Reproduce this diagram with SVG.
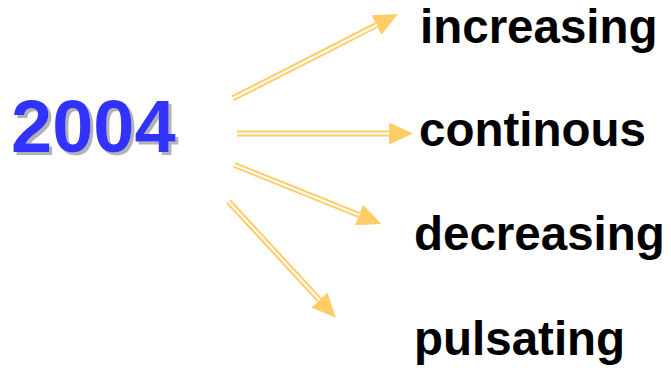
<svg xmlns="http://www.w3.org/2000/svg" width="671" height="372" viewBox="0 0 671 372">
<style>
.lbl{font-family:"Liberation Sans",Arial,sans-serif;font-weight:bold;font-size:47.5px;fill:#000}
.yr{font-family:"Liberation Sans",Arial,sans-serif;font-weight:bold;font-size:74px;fill:#3333FF}
.outer{stroke:#FFCC66;stroke-width:6;fill:none}
.inner{stroke:#FFFFFF;stroke-width:2;fill:none}
</style>
<defs>
<marker id="head" markerUnits="userSpaceOnUse" markerWidth="24" markerHeight="22" refX="0" refY="11" orient="auto" viewBox="0 0 24 22">
<path d="M0,0 L24,11 L0,22 z" fill="#FFCC66"/>
</marker>
<filter id="shadow" x="-10%" y="-10%" width="130%" height="130%">
<feFlood flood-color="#B2B2B2" result="c"/>
<feComposite in="c" in2="SourceAlpha" operator="in" result="s"/>
<feOffset in="s" dx="3" dy="3" result="o"/>
<feMerge><feMergeNode in="o"/><feMergeNode in="SourceGraphic"/></feMerge>
</filter>
</defs>
<rect width="671" height="372" fill="#fff"/>
<g id="year">
<text class="yr" x="11" y="152" filter="url(#shadow)">2004</text>
</g>
<g id="connectors">
<path class="outer" d="M232.5,98.5 L376.5,25" marker-end="url(#head)"/>
<path class="inner" d="M232.5,98.5 L377,25"/>
<path class="outer" d="M237,133.5 L389,133.5" marker-end="url(#head)"/>
<path class="inner" d="M237,133.5 L389.5,133.5"/>
<path class="outer" d="M234.5,165 L359,215" marker-end="url(#head)"/>
<path class="inner" d="M234.5,165 L359.5,215.2"/>
<path class="outer" d="M228.5,201.5 L319.5,300" marker-end="url(#head)"/>
<path class="inner" d="M228.5,201.5 L319.8,300.3"/>
</g>
<g id="n-increasing"><text class="lbl" x="420" y="43">increasing</text></g>
<g id="n-continous"><text class="lbl" x="419" y="146">continous</text></g>
<g id="n-decreasing"><text class="lbl" x="414" y="250">decreasing</text></g>
<g id="n-pulsating"><text class="lbl" x="414" y="355">pulsating</text></g>
</svg>
